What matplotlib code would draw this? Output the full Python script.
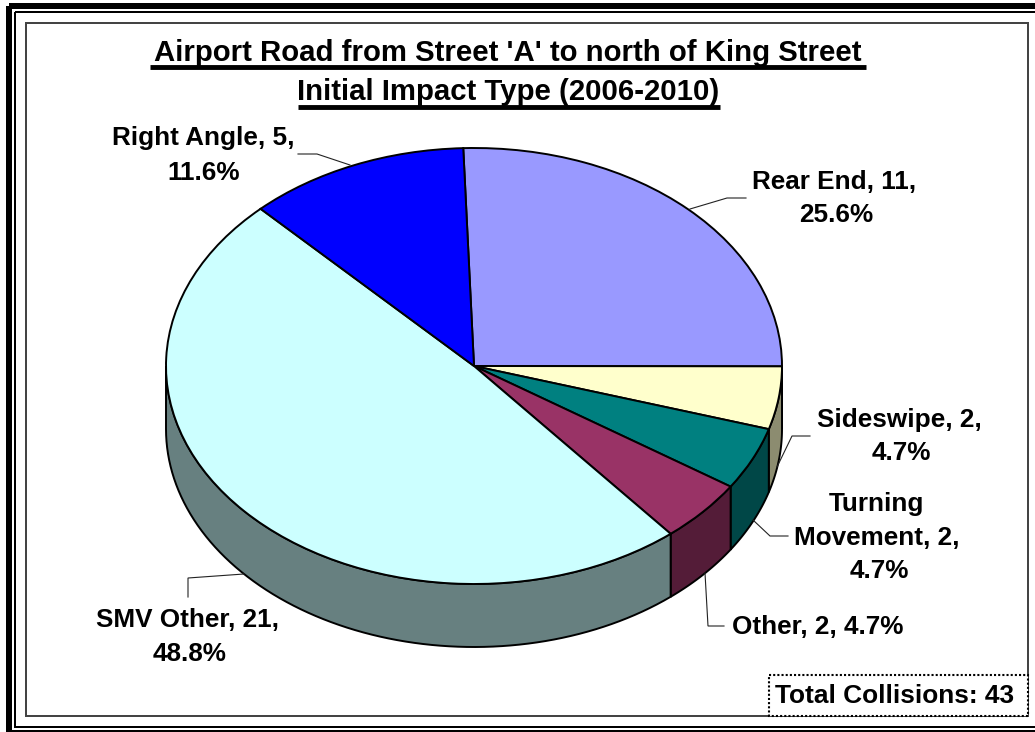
import numpy as np
import matplotlib
matplotlib.use('Agg')
import matplotlib.pyplot as plt
from matplotlib.patches import Rectangle, Polygon

W, H = 1035, 732
categories = ['Rear End', 'Sideswipe', 'Turning Movement', 'Other', 'SMV Other', 'Right Angle']
values = [11, 2, 2, 2, 21, 5]
percents = [25.6, 4.7, 4.7, 4.7, 48.8, 11.6]
top_colors = ['#9999FF', '#FFFFCC', '#008080', '#993366', '#CCFFFF', '#0000FF']
side_colors = ['#66668F', '#8C8C70', '#004747', '#541C38', '#678080', '#00008F']
title_lines = ["Airport Road from Street 'A' to north of King Street", 'Initial Impact Type (2006-2010)']
total_label = 'Total Collisions: 43'
start_angle = 92.0

plt.rcParams['font.family'] = ['Liberation Sans', 'DejaVu Sans']
fig = plt.figure(figsize=(W / 100, H / 100), dpi=100, facecolor='white')

# full-figure overlay in pixel coordinates
ov = fig.add_axes([0, 0, 1, 1], zorder=3)
ov.set_xlim(0, W); ov.set_ylim(H, 0); ov.axis('off')
ov.patch.set_alpha(0)

# frame
for (x0, y0, x1, y1, lw, c) in [
    (9, 6, 1060, 733, 6 * 0.72, 'black'),
    (14.8, 12, 1060, 727, 2 * 0.72, 'black'),
    (25.5, 23, 1027.5, 715.5, 2 * 0.72, '#444444'),
]:
    ov.add_patch(Rectangle((x0, y0), x1 - x0, y1 - y0, fill=False, ec=c, lw=lw))

# pie axes: unit circle maps onto the ellipse
cx, cy, rx, ry, depth = 474, 366, 308, 218, 63
ax = fig.add_axes([(cx - rx) / W, 1 - (cy + ry) / H, 2 * rx / W, 2 * ry / H], zorder=2)
ax.patch.set_alpha(0)
d = depth / ry
wedges, _ = ax.pie(values, colors=top_colors, startangle=start_angle, counterclock=False,
                   radius=1, center=(0, 0), normalize=True,
                   wedgeprops=dict(ec='black', lw=1.4, zorder=5))
ax.set_aspect('auto')
ax.set_xlim(-1, 1); ax.set_ylim(-1, 1)
ax.set_clip_on(False)
for w in wedges:
    w.set_clip_on(False)

# side wall of each wedge on the front half
total = sum(values)
ang = start_angle
for v, c in zip(values, side_colors):
    a0, a1 = ang, ang - 360 * v / total
    ang = a1
    lo, hi = max(a1, -180), min(a0, 0)
    if hi <= lo:
        continue
    t = np.radians(np.linspace(lo, hi, 80))
    xs, ys = np.cos(t), np.sin(t)
    pts = np.r_[np.c_[xs, ys], np.c_[xs[::-1], ys[::-1] - d]]
    ax.add_patch(Polygon(pts, closed=True, fc=c, ec='black', lw=1.4, zorder=1, clip_on=False))

# labels (x centre, y baseline in pixels)
fs = 18.8
def T(x, y, s, size=fs, **k):
    ov.text(x, y, s, ha='center', va='baseline', fontsize=size, fontweight='bold', color='black', **k)

T(508, 61, title_lines[0], size=21.2)
T(508.5, 100, title_lines[1], size=21.2)
ov.plot([150, 866], [66.5, 66.5], color='black', lw=3.5, solid_capstyle='butt')
ov.plot([298, 720], [106.5, 106.5], color='black', lw=3.5, solid_capstyle='butt')

T(203, 145, f'{categories[5]}, {values[5]},')
T(204, 180, f'{percents[5]}%')
T(834, 189, f'{categories[0]}, {values[0]},')
T(836, 222, f'{percents[0]}%')
T(899, 427, f'{categories[1]}, {values[1]},')
T(901, 460, f'{percents[1]}%')
T(876.5, 511, 'Turning')
T(876.5, 545, f'Movement, {values[2]},')
T(879, 578, f'{percents[2]}%')
T(817.5, 634, f'{categories[3]}, {values[3]}, {percents[3]}%')
T(187.5, 627, f'{categories[4]}, {values[4]},')
T(190, 661, f'{percents[4]}%')

# leader lines
for xs, ys in [
    ([298, 317, 350], [154, 154, 165]),
    ([746, 727, 690], [198, 198, 209]),
    ([810, 792, 777], [436, 436, 467]),
    ([788, 770, 753], [536, 536, 520]),
    ([724, 708, 705], [626, 626, 573]),
    ([188, 188, 244], [597, 578, 574]),
]:
    ov.plot(xs, ys, color='#222222', lw=0.8, solid_joinstyle='miter')

# total box
ov.add_patch(Rectangle((769, 675), 259, 40.5, fc='white', ec='black', lw=1.5, ls=(0, (1, 1)), zorder=4))
ov.text(895, 703, total_label, ha='center', va='baseline', fontsize=18.9, fontweight='bold', zorder=5)

fig.savefig('out.png', dpi=100, facecolor='white')
